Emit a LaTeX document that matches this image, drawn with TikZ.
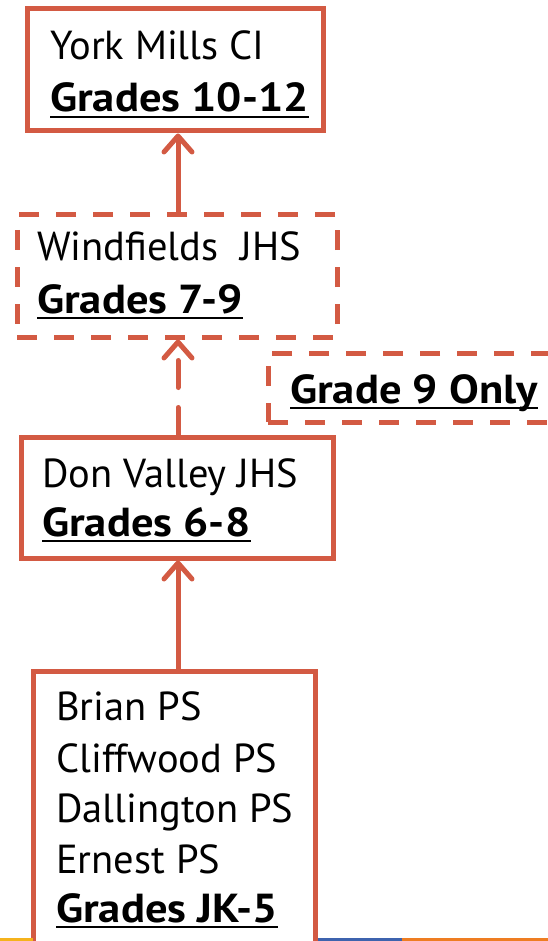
\documentclass[tikz,border=0pt]{standalone}
\usepackage{fontspec}
\setmainfont{PT Sans}[BoldFeatures={FakeStretch=1.1}]
\usetikzlibrary{arrows.meta}
\definecolor{boxred}{HTML}{D35A43}
\definecolor{stripyellow}{HTML}{F5B31C}
\definecolor{stripblue}{HTML}{3E63AE}
\definecolor{stripor}{HTML}{EE7D22}
\begin{document}
\begin{tikzpicture}[x=1pt,y=-1pt,
  boxs/.style={draw=boxred, line width=5pt, rectangle, inner sep=0pt, fill=white},
  dbox/.style={boxs, dash pattern=on 20pt off 17pt},
  txt/.style={anchor=base west, inner sep=0pt, font=\fontsize{40.5}{44}\selectfont},
  btxt/.style={anchor=base west, inner sep=0pt, font=\fontsize{40.5}{44}\selectfont\bfseries},
  ul/.style={draw=black, line width=2.5pt},
  arr/.style={draw=boxred, line width=5pt, line cap=round,
    -{Straight Barb[length=16pt,width=28pt,round]}},
  strip/.style={line width=3pt},
]
\useasboundingbox (0,0) rectangle (548,941);
\clip (0,0) rectangle (548,941);
% boxes
\node[boxs, minimum width=296pt, minimum height=122pt] (york) at (175,70) {};
\node[dbox, minimum width=320pt, minimum height=122pt] (wind) at (177,276) {};
\node[dbox, minimum width=292pt, minimum height=69pt] (g9) at (414,387.5) {};
\node[boxs, minimum width=312pt, minimum height=121pt] (dv) at (177,497.5) {};
\node[boxs, minimum width=282pt, minimum height=290pt] (ps) at (174,816) {};
\coordinate (ax) at (178,0);
% connectors
\draw[arr] (wind.north -| ax) -- (york.south -| ax);
\draw[arr, dash pattern=on 27pt off 20pt] (dv.north -| ax) -- (wind.south -| ax);
\draw[arr] (ps.north -| ax) -- (dv.south -| ax);
% texts
\node[txt] (t1) at (50,60) {York Mills CI};
\node[btxt] (t2) at (50,112) {Grades 10-12};
\node[txt] (t3) at (37,260) {Windfields\ \ JHS};
\node[btxt] (t4) at (37,313) {Grades 7-9};
\node[btxt] (t5) at (290,403) {Grade 9 Only};
\node[txt] (t6) at (42,487) {Don Valley JHS};
\node[btxt] (t7) at (42,536) {Grades 6-8};
\node[txt] (t8) at (56,720) {Brian PS};
\node[txt] (t9) at (56,772) {Cliffwood PS};
\node[txt] (t10) at (56,822) {Dallington PS};
\node[txt] (t11) at (56,873) {Ernest PS};
\node[btxt] (t12) at (56,922) {Grades JK-5};
\foreach \n in {t2,t4,t5,t7,t12}
  \draw[ul] ([yshift=-5pt]\n.base west) -- ([yshift=-5pt]\n.base east);
% bottom strip
\coordinate (s0) at (0,939.5);
\coordinate (s1) at (33,939.5);
\coordinate (s2) at (318,939.5);
\coordinate (s3) at (402,939.5);
\coordinate (s4) at (548,939.5);
\draw[strip, stripyellow] (s0) -- (s1);
\draw[strip, stripblue] (s2) -- (s3);
\draw[strip, stripor] (s3) -- (s4);
\end{tikzpicture}
\end{document}
